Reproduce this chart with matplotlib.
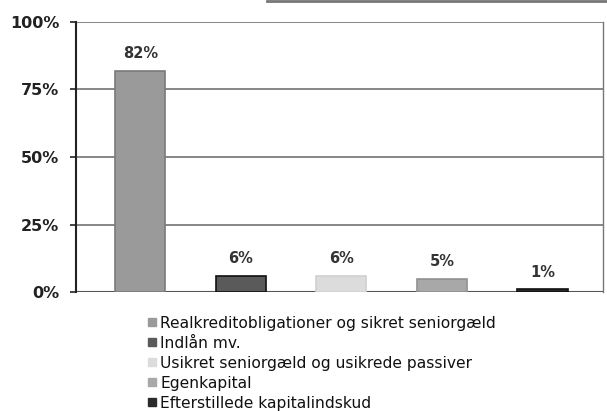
import matplotlib
matplotlib.use("Agg")
import matplotlib.pyplot as plt
from matplotlib.lines import Line2D

categories = ["Realkreditobligationer og sikret seniorgæld", "Indlån mv.",
              "Usikret seniorgæld og usikrede passiver", "Egenkapital",
              "Efterstillede kapitalindskud"]
values = [82, 6, 6, 5, 1]
bar_labels = ["82%", "6%", "6%", "5%", "1%"]
yticks = [0, 25, 50, 75, 100]
ytick_labels = ["0%", "25%", "50%", "75%", "100%"]

face_colors = ["#9a9a9a", "#5a5a5a", "#dcdcdc", "#a8a8a8", "#2a2a2a"]
edge_colors = ["#7a7a7a", "#111111", "#d0d0d0", "#909090", "#111111"]

fig = plt.figure(figsize=(6.07, 4.11), dpi=100)
ax = fig.add_axes([0.125, 0.2895, 0.868, 0.657])

x = list(range(len(values)))
ax.bar(x, values, width=0.5, color=face_colors, edgecolor=edge_colors, linewidth=1.2, zorder=3)
for xi, v, lab in zip(x, values, bar_labels):
    ax.text(xi, v + 3.5, lab, ha="center", va="bottom", fontsize=10.5, color="#333333",
            fontweight="bold")

ax.set_xlim(-0.64, 4.6)
ax.set_ylim(0, 100)
ax.set_yticks(yticks)
ax.set_yticklabels(ytick_labels, fontsize=11.5, fontweight="bold", color="#222222")
ax.set_xticks([])
ax.yaxis.grid(True, color="#666666", linewidth=1.1, zorder=0)
for s in ["top", "bottom"]:
    ax.spines[s].set_visible(False)
ax.spines["left"].set_color("#222222")
ax.spines["left"].set_linewidth(1.5)
ax.spines["right"].set_color("#777777")
ax.spines["right"].set_linewidth(1.0)
ax.axhline(0, color="#555555", linewidth=1.5, zorder=2)
ax.tick_params(axis="y", length=4, width=1.2, color="#222222", pad=8)

# partial header line at top
fig.add_artist(Line2D([0.44, 1.0], [0.998, 0.998], color="#777777", linewidth=2,
                      transform=fig.transFigure))

handles = [Line2D([], [], marker="s", linestyle="none", markersize=6,
                  markerfacecolor=c, markeredgecolor=c) for c in face_colors]
fig.legend(handles, categories, loc="upper left", bbox_to_anchor=(0.245, 0.232),
           frameon=False, fontsize=11.2, handlelength=0.45, handletextpad=0.3,
           labelspacing=0.32, borderaxespad=0, borderpad=0, labelcolor="#111111")

fig.savefig("out.png", dpi=100)
